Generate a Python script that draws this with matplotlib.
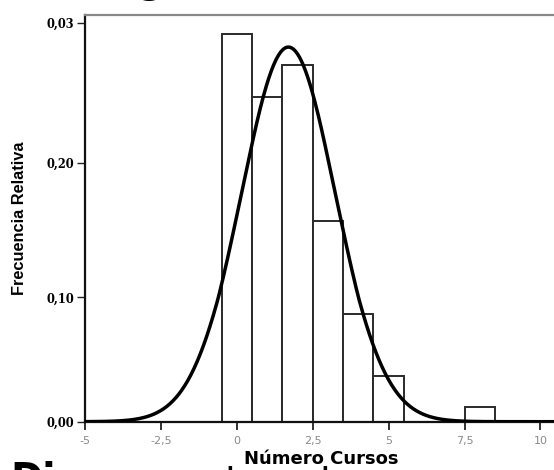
import numpy as np
import matplotlib
matplotlib.use("Agg")
import matplotlib.pyplot as plt

# ---- data ----
bin_centers = [0, 1, 2, 3, 4, 5, 8]
rel_freq = [0.292, 0.247, 0.270, 0.157, 0.087, 0.037, 0.012]
curve_mean = 1.70
curve_sd = 1.60
curve_peak = 0.283
x_ticks = [-5, -2.5, 0, 2.5, 5, 7.5, 10]
x_tick_labels = ["-5", "-2,5", "0", "2,5", "5", "7,5", "10"]
y_ticks = [0.0, 0.1, 0.2, 0.3]
y_tick_labels = ["0,00", "0,10", "0,20", "0,03"]

# uneven vertical spacing of the reference axis (value -> pixel height)
_vals = np.array([-1.0, 0.0, 0.1, 0.2, 0.3, 1.3])
_pix = np.array([-1242.0, 0.0, 124.2, 258.4, 398.4, 1798.4])


def fwd(v):
    return np.interp(np.asarray(v, dtype=float), _vals, _pix)


def inv(p):
    return np.interp(np.asarray(p, dtype=float), _pix, _vals)


W, H = 554, 470
fig = plt.figure(figsize=(W / 100, H / 100), dpi=100)
ax = fig.add_axes([85 / W, (H - 421.7) / H, (W - 85) / W, 406.7 / H])
ax.set_yscale("function", functions=(fwd, inv))

ax.bar(bin_centers, rel_freq, width=1.0, facecolor="white",
       edgecolor="#2a2a2a", linewidth=1.4, zorder=2)

xs = np.linspace(-5, 10.5, 600)
ys = curve_peak * np.exp(-0.5 * ((xs - curve_mean) / curve_sd) ** 2)
ax.plot(xs, ys, color="black", linewidth=2.5, zorder=3)

ax.set_xlim(-5, -5 + (W - 85) / 30.36)
ax.set_ylim(0, 0.3059)

ax.set_xticks(x_ticks)
ax.set_xticklabels(x_tick_labels, fontsize=8, color="#8a8a8a",
                   family="DejaVu Sans")
ax.set_yticks(y_ticks)
ax.set_yticklabels(y_tick_labels, fontsize=8.3, fontweight="bold",
                   family="DejaVu Serif", color="black")
ax.yaxis.set_minor_locator(matplotlib.ticker.NullLocator())
ax.tick_params(axis="x", length=6, width=1.3, pad=4.5, color="#222222")
ax.tick_params(axis="y", length=5.5, width=1.0, pad=2.5, color="#222222")

for s in ("left", "bottom"):
    ax.spines[s].set_linewidth(1.6)
    ax.spines[s].set_color("#111111")
ax.spines["top"].set_color("#888888")
ax.spines["top"].set_linewidth(1.6)
ax.spines["right"].set_visible(False)

# axis titles
fig.text(321 / W, (H - 459) / H, "Número Cursos", fontsize=13,
         fontweight="bold", family="DejaVu Sans", ha="center", va="center")
fig.text(20 / W, (H - 218) / H, "Frecuencia Relativa", rotation=90,
         fontsize=11.8, fontweight="bold",
         family=["Liberation Sans", "DejaVu Sans"],
         ha="center", va="center")

# cropped surrounding text of the page
fig.text(150 / W, (H - 1) / H, "g", fontsize=26, fontweight="bold",
         family="DejaVu Sans", ha="center", va="bottom")
fig.text(10 / W, (H - 491.4) / H, "Di", fontsize=28, fontweight="bold",
         family="DejaVu Sans", ha="left", va="baseline")
fig.text(230 / W, (H - 496) / H, "l", fontsize=28,
         family="DejaVu Sans", ha="center", va="baseline")
fig.text(325 / W, (H - 496) / H, "l", fontsize=28,
         family="DejaVu Sans", ha="center", va="baseline")

fig.savefig("out.png", dpi=100)
